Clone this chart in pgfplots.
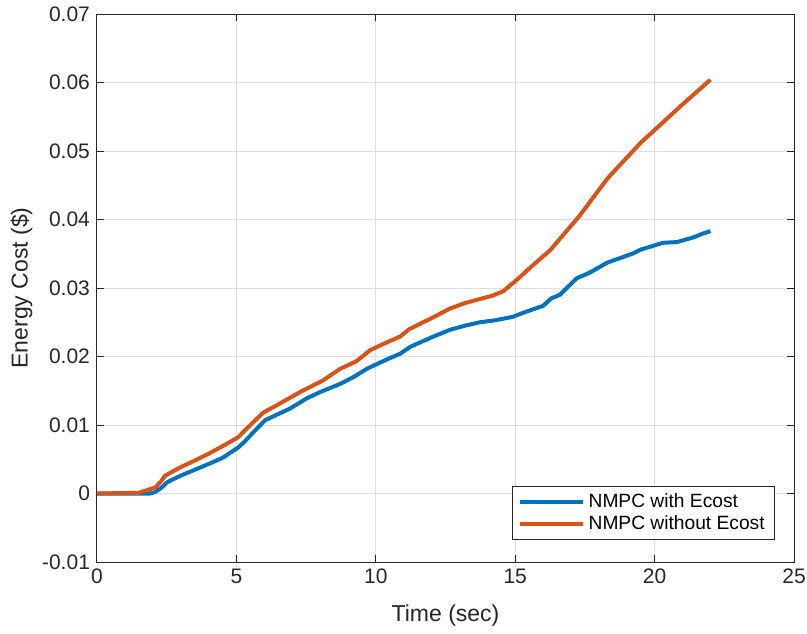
\documentclass[border=0pt]{standalone}
\usepackage{fontspec}
\setmainfont{Liberation Sans}
\usepackage{pgfplots}
\pgfplotsset{compat=1.18}
\definecolor{mblue}{HTML}{0072BD}
\definecolor{morange}{HTML}{D95319}
\definecolor{mgrid}{HTML}{DFDFDF}
\definecolor{maxis}{HTML}{262626}

\begin{document}
\begin{tikzpicture}
\begin{axis}[scale only axis,width=348.5pt,height=274pt,
xmin=0,xmax=25,ymin=-0.01,ymax=0.07,
xtick={0,5,...,25},ytick={-0.01,0,0.01,0.02,0.03,0.04,0.05,0.06,0.07},
scaled ticks=false,
yticklabel style={/pgf/number format/.cd,fixed,precision=2,assume math mode=true},
xticklabel style={/pgf/number format/assume math mode=true},
tick label style={font=\fontsize{10.5}{12}\selectfont,text=maxis},
label style={font=\fontsize{11.5}{13}\selectfont,text=maxis},
xlabel={Time (sec)},ylabel={Energy Cost (\$)},
ylabel style={yshift=-2pt},xlabel style={yshift=-3.5pt},
grid=major,major grid style={mgrid,line width=0.5pt},
axis line style={maxis,line width=0.5pt},
tick style={maxis,line width=0.5pt},
tick align=inside,major tick length=3.5pt,
legend style={at={(0.973,0.04)},anchor=south east,draw=maxis,line width=0.5pt,
font=\fontsize{9.6}{11}\selectfont,cells={anchor=west},inner xsep=3pt,inner ysep=1.5pt,row sep=-1.5pt},
legend image post style={line width=2pt},
legend image code/.code={\draw[#1] (0cm,0cm) -- (1.1cm,0cm);}]
\addplot[mblue,line width=2pt] coordinates {
(0,0) (1.5,0) (1.9,0) (2.08,0.0002) (2.3,0.0008) (2.5,0.0016) (2.69,0.002) (3.0,0.0026)
(3.23,0.003) (4.0,0.0043) (4.5,0.0052) (5.06,0.0067) (5.3,0.0076) (5.6,0.0089) (6.03,0.0107)
(6.5,0.0116) (6.92,0.0124) (7.53,0.0139) (8.0,0.0148) (8.72,0.0160) (9.2,0.0170) (9.68,0.0182)
(10.3,0.0194) (10.87,0.0204) (11.23,0.0214) (12.0,0.0228) (12.66,0.0239) (13.2,0.0245)
(13.74,0.0250) (14.3,0.0253) (14.92,0.0258) (15.3,0.0264) (16.0,0.0274) (16.3,0.0285)
(16.6,0.0290) (17.2,0.0314) (17.7,0.0323) (18.3,0.0337) (19.2,0.0350) (19.5,0.0356)
(20.3,0.0366) (20.8,0.0367) (21.4,0.0374) (21.7,0.0379) (22,0.0383)};
\addplot[morange,line width=2pt] coordinates {
(0,0) (1.5,0.0001) (1.8,0.0005) (2.1,0.0009) (2.3,0.0018) (2.44,0.0026) (2.98,0.0038)
(3.5,0.0048) (4.0,0.0058) (4.5,0.0069) (5.06,0.0082) (5.3,0.0092) (5.6,0.0104) (5.96,0.0118)
(6.5,0.0130) (7.28,0.0148) (8.1,0.0165) (8.72,0.0182) (9.3,0.0193) (9.79,0.0209) (10.3,0.0219)
(10.87,0.0229) (11.2,0.0240) (12.0,0.0256) (12.66,0.0270) (13.2,0.0278) (13.74,0.0284)
(14.2,0.0289) (14.56,0.0295) (15.06,0.0312) (15.6,0.0332) (16.25,0.0355) (17.3,0.0405)
(18.33,0.0461) (19.5,0.0512) (21,0.0568) (22,0.0604)};
\legend{NMPC with Ecost,NMPC without Ecost}
\end{axis}
\pgfresetboundingbox
\path ([shift={(-48.5pt,-35.5pt)}]current axis.south west) rectangle ([shift={(6.5pt,7pt)}]current axis.north east);
\end{tikzpicture}
\end{document}
